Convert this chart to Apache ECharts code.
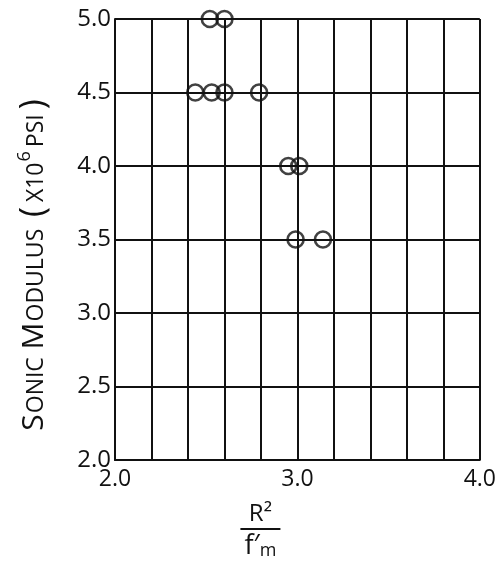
<!DOCTYPE html>
<html>
<head>
<meta charset="utf-8">
<script src="https://cdn.jsdelivr.net/npm/echarts@6/dist/echarts.min.js"></script>
<style>html,body{margin:0;padding:0;background:#fff;}#c{width:499px;height:565px;}</style>
</head>
<body>
<div id="c"></div>
<script>
// R^2 / f'm values (x) and sonic modulus values (y, x10^6 psi)
const rSquaredOverFm = [2.52, 2.60, 2.44, 2.53, 2.60, 2.79, 2.95, 3.01, 2.99, 3.14];
const sonicModulus   = [5.0, 5.0, 4.5, 4.5, 4.5, 4.5, 4.0, 4.0, 3.5, 3.5];
const xTickLabels = ['2.0', '3.0', '4.0'];
const yTickLabels = ['2.0', '2.5', '3.0', '3.5', '4.0', '4.5', '5.0'];

const ink = '#111';
const font = 'Open Sans';
const chart = echarts.init(document.getElementById('c'));
const points = rSquaredOverFm.map((x, i) => [x, sonicModulus[i]]);

chart.setOption({
  backgroundColor: '#fff',
  animation: false,
  grid: { left: 115, right: 13, top: 19, bottom: 103 },
  xAxis: {
    type: 'value', min: 2.0, max: 4.0, interval: 0.2,
    axisLine: { lineStyle: { color: ink, width: 2 } },
    axisTick: { show: false },
    splitLine: { lineStyle: { color: ink, width: 2 } },
    axisLabel: {
      color: ink, fontFamily: font, fontSize: 23, margin: 8,
      formatter: v => {
        const s = v.toFixed(1);
        return xTickLabels.includes(s) ? s : '';
      }
    },
    name: '{n|R²}\n{bar|}\n{d|f′}{sub|m}',
    nameLocation: 'middle',
    nameGap: 42,
    nameTextStyle: {
      color: ink, fontFamily: font, padding: [0, 74, 0, 0],
      rich: {
        n: { fontSize: 24, color: ink, fontFamily: font, align: 'center', lineHeight: 24 },
        bar: { width: 40, height: 2, backgroundColor: ink, align: 'center', lineHeight: 6 },
        d: { fontSize: 27, color: ink, fontFamily: font, lineHeight: 28 },
        sub: { fontSize: 18, color: ink, fontFamily: font, verticalAlign: 'bottom', lineHeight: 28, padding: [6, 0, 0, 0] }
      }
    }
  },
  yAxis: {
    type: 'value', min: 2.0, max: 5.0, interval: 0.5,
    axisLine: { show: true, lineStyle: { color: ink, width: 2 } },
    axisTick: { show: false },
    splitLine: { lineStyle: { color: ink, width: 2 } },
    axisLabel: {
      color: ink, fontFamily: font, fontSize: 24, margin: 4,
      formatter: v => {
        const s = v.toFixed(1);
        return yTickLabels.includes(s) ? s : '';
      }
    }
  },
  graphic: [{
    type: 'text',
    x: 34, y: 263,
    rotation: Math.PI / 2,
    style: {
      text: '{c|S}{s|ONIC}  {c|M}{s|ODULUS}  {p|(}{s|X10}{sup|6}{s|PSI}{p|)}',
      align: 'center', verticalAlign: 'middle',
      fill: ink,
      rich: {
        c: { fontSize: 30, fontFamily: font, fill: ink, color: ink },
        s: { fontSize: 23, fontFamily: font, fill: ink, color: ink, padding: [5, 1, 0, 1] },
        sup: { fontSize: 18, fontFamily: font, fill: ink, color: ink, padding: [0, 3, 18, 0] },
        p: { fontSize: 34, fontFamily: font, fill: ink, color: ink, padding: [0, 4, 0, 4] }
      }
    }
  }],
  series: [{
    type: 'scatter',
    data: points,
    symbol: 'circle',
    symbolSize: 16,
    itemStyle: { color: 'rgba(0,0,0,0)', borderColor: ink, borderWidth: 2.6 },
    z: 5
  }]
});
</script>
</body>
</html>
